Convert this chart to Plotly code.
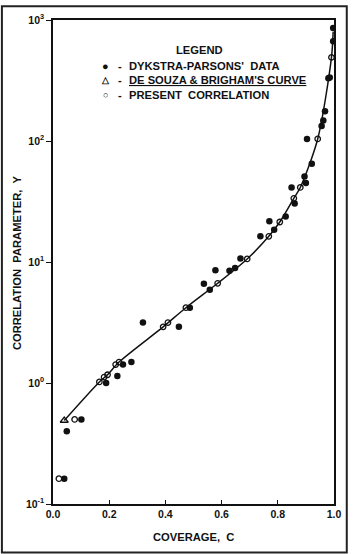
import plotly.graph_objects as go

# Dykstra-Parsons' data (filled circles)
dp_c = [0.040, 0.049, 0.101, 0.189, 0.229, 0.249, 0.279, 0.320, 0.448, 0.487,
        0.537, 0.558, 0.578, 0.628, 0.648, 0.667, 0.738, 0.770, 0.787, 0.828,
        0.849, 0.860, 0.895, 0.900, 0.904, 0.921, 0.956, 0.962, 0.968, 0.980,
        0.985, 0.997, 0.997]
dp_y = [0.162, 0.40, 0.50, 1.00, 1.14, 1.42, 1.49, 3.16, 2.91, 4.19,
        6.6, 5.9, 8.55, 8.45, 8.9, 10.7, 16.3, 21.7, 18.5, 23.8,
        41.3, 30.5, 51, 45, 104, 64.8, 133, 148, 176, 330,
        335, 667, 857]

# De Souza & Brigham's curve (triangle)
dsb_c = [0.040]
dsb_y = [0.49]

# Present correlation (open circles)
pc_c = [0.021, 0.077, 0.165, 0.182, 0.194, 0.223, 0.235, 0.392, 0.409, 0.473,
        0.586, 0.691, 0.768, 0.807, 0.857, 0.880, 0.942, 0.991]
pc_y = [0.162, 0.50, 1.02, 1.12, 1.17, 1.42, 1.49, 2.91, 3.16, 4.19,
        6.67, 10.6, 16.3, 21.4, 33.6, 41.3, 104, 491]

# Correlation curve
curve_c = [0.040, 0.165, 0.194, 0.235, 0.392, 0.473, 0.586, 0.691, 0.768,
           0.807, 0.857, 0.880, 0.942, 0.991, 0.997]
curve_y = [0.49, 1.02, 1.17, 1.49, 2.91, 4.19, 6.67, 10.6, 16.3,
           21.4, 33.6, 41.3, 104, 491, 800]

y_tickvals = [0.1, 1, 10, 100, 1000]
y_ticktext = ["10<sup>-1</sup>", "10<sup>0</sup>", "10<sup>1</sup>", "10<sup>2</sup>", "10<sup>3</sup>"]
x_tickvals = [0.0, 0.2, 0.4, 0.6, 0.8, 1.0]
x_ticktext = ["0.0", "0.2", "0.4", "0.6", "0.8", "1.0"]

FONT = "Liberation Sans, Arial, Helvetica, sans-serif"
INK = "#111111"

W, H = 353, 554
ML, MR, MT, MB = 53, 14, 15, 50
PW, PH = W - ML - MR, H - MT - MB

def px(x):
    return (x - ML) / PW

def py(y):
    return (H - MB - y) / PH

fig = go.Figure()
fig.add_trace(go.Scatter(x=curve_c, y=curve_y, mode="lines",
                         line=dict(color=INK, width=1.5, shape="spline", smoothing=0.8),
                         hoverinfo="skip", showlegend=False))
fig.add_trace(go.Scatter(x=dp_c, y=dp_y, mode="markers",
                         marker=dict(symbol="circle", size=6.5, color=INK, line=dict(width=0)),
                         showlegend=False))
fig.add_trace(go.Scatter(x=pc_c, y=pc_y, mode="markers",
                         marker=dict(symbol="circle-open", size=5.5, color=INK, line=dict(width=1.3)),
                         showlegend=False))
fig.add_trace(go.Scatter(x=dsb_c, y=dsb_y, mode="markers",
                         marker=dict(symbol="triangle-up-open", size=7, color=INK, line=dict(width=1.3)),
                         showlegend=False))

annotations = []
def ann(text, x, y, size=11.2, xanchor="left", textangle=0, weight="bold"):
    annotations.append(dict(text=text, x=px(x), y=py(y), xref="paper", yref="paper",
                            showarrow=False, xanchor=xanchor, yanchor="middle",
                            textangle=textangle,
                            font=dict(family=FONT, size=size, color=INK, weight=weight)))

ann("LEGEND", 202, 45, xanchor="center")
ann("●", 106, 61, size=11, xanchor="center")
ann("△", 106, 76, size=9, xanchor="center")
ann("○", 106, 91, size=9, xanchor="center")
for yy in (61, 76, 91):
    ann("-", 121, yy, xanchor="center")
ann("DYKSTRA-PARSONS'  DATA", 128, 61)
ann("<u>DE SOUZA &amp; BRIGHAM'S CURVE</u>", 128, 76)
ann("PRESENT  CORRELATION", 128, 91)
ann("COVERAGE,  C", 196, 537, xanchor="center")
ann("CORRELATION  PARAMETER,  Y", 17, 260, xanchor="center", textangle=-90)

shapes = [dict(type="rect", xref="paper", yref="paper",
               x0=px(1), x1=px(W - 1), y0=py(H - 1), y1=py(1),
               line=dict(color="#222222", width=2))]

fig.update_layout(
    width=W, height=H,
    margin=dict(l=ML, r=MR, t=MT, b=MB),
    paper_bgcolor="white", plot_bgcolor="white",
    annotations=annotations, shapes=shapes,
    showlegend=False,
    xaxis=dict(range=[0, 1], tickvals=x_tickvals, ticktext=x_ticktext,
               ticks="inside", ticklen=4, tickwidth=1.3, tickcolor=INK,
               showgrid=False, zeroline=False, showline=True, linecolor=INK,
               linewidth=1.6, mirror=True,
               tickfont=dict(family=FONT, size=10.5, color=INK, weight="bold")),
    yaxis=dict(type="log", range=[-1, 3], tickvals=y_tickvals, ticktext=y_ticktext,
               ticks="outside", ticklen=5, tickwidth=1.3, tickcolor=INK,
               showgrid=False, zeroline=False, showline=True, linecolor=INK,
               linewidth=1.6, mirror=True,
               tickfont=dict(family=FONT, size=10.5, color=INK, weight="bold")),
)

fig.write_html("out.html")
